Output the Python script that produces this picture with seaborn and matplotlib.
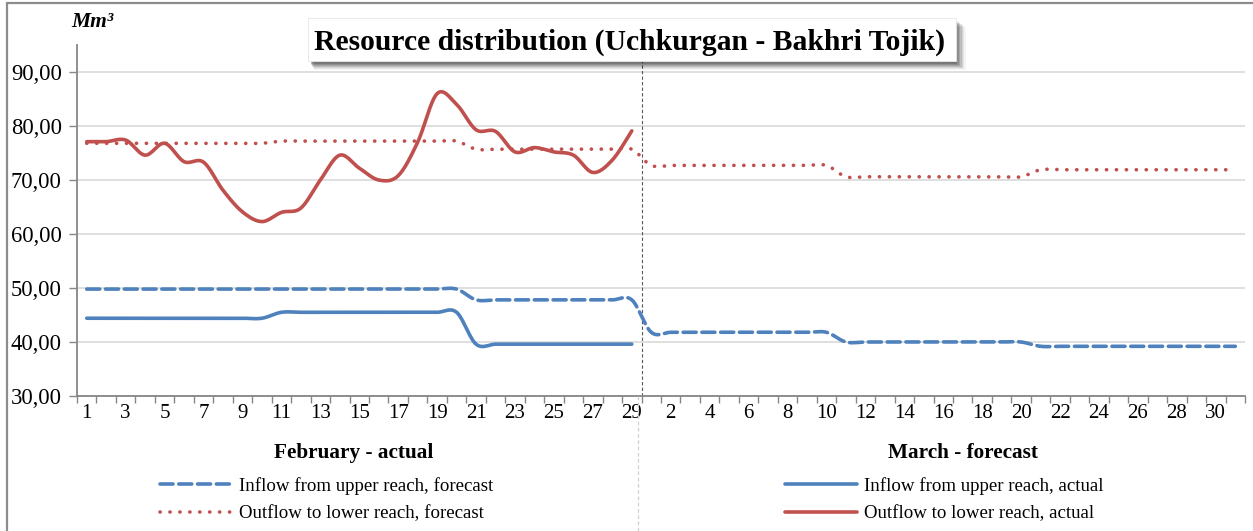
import numpy as np
import matplotlib
matplotlib.use("Agg")
import matplotlib.pyplot as plt
from matplotlib.lines import Line2D
from matplotlib.patches import Rectangle
import seaborn as sns

# data (Mm3 per day)
feb_days = list(range(1, 30))
mar_days = list(range(1, 32))

inflow_forecast = [
    49.8, 49.8, 49.8, 49.8, 49.8, 49.8, 49.8, 49.8, 49.8, 49.8,
    49.8, 49.8, 49.8, 49.8, 49.8, 49.8, 49.8, 49.8, 49.8, 49.8,
    47.8, 47.8, 47.8, 47.8, 47.8, 47.8, 47.8, 47.8, 47.8,
    41.8, 41.8, 41.8, 41.8, 41.8, 41.8, 41.8, 41.8, 41.8, 41.8,
    40.0, 40.0, 40.0, 40.0, 40.0, 40.0, 40.0, 40.0, 40.0, 40.0,
    39.2, 39.2, 39.2, 39.2, 39.2, 39.2, 39.2, 39.2, 39.2, 39.2, 39.2,
]
outflow_forecast = [
    76.8, 76.8, 76.8, 76.8, 76.8, 76.8, 76.8, 76.8, 76.8, 76.8,
    77.2, 77.2, 77.2, 77.2, 77.2, 77.2, 77.2, 77.2, 77.2, 77.2,
    75.7, 75.7, 75.7, 75.7, 75.7, 75.7, 75.7, 75.7, 75.7,
    72.7, 72.7, 72.7, 72.7, 72.7, 72.7, 72.7, 72.7, 72.7, 72.7,
    70.6, 70.6, 70.6, 70.6, 70.6, 70.6, 70.6, 70.6, 70.6, 70.6,
    71.9, 71.9, 71.9, 71.9, 71.9, 71.9, 71.9, 71.9, 71.9, 71.9, 71.9,
]
inflow_actual = [
    44.4, 44.4, 44.4, 44.4, 44.4, 44.4, 44.4, 44.4, 44.4, 44.4,
    45.5, 45.5, 45.5, 45.5, 45.5, 45.5, 45.5, 45.5, 45.5, 45.5,
    39.6, 39.6, 39.6, 39.6, 39.6, 39.6, 39.6, 39.6, 39.6,
]
outflow_actual = [
    77.1, 77.1, 77.4, 74.6, 76.8, 73.4, 73.3, 68.1, 64.1, 62.3,
    64.0, 64.8, 70.0, 74.6, 72.2, 70.0, 70.8, 77.0, 86.0, 84.0,
    79.3, 79.0, 75.2, 76.0, 75.2, 74.6, 71.4, 73.7, 79.1,
]

tick_labels = [str(d) for d in feb_days] + [str(d) for d in mar_days]

BLUE = "#4F81BD"
RED = "#C0504D"
W, H = 1253, 531


def smooth(y, n=16):
    # excel-like smoothed line (bezier, control points at 1/6 of neighbour slope)
    y = np.asarray(y, float)
    x = np.arange(len(y), dtype=float)
    xs, ys = [], []
    for i in range(len(y) - 1):
        i0, i3 = max(i - 1, 0), min(i + 2, len(y) - 1)
        p0 = np.array([x[i], y[i]])
        p3 = np.array([x[i + 1], y[i + 1]])
        p1 = p0 + (p3 - np.array([x[i0], y[i0]])) / 6
        p2 = p3 - (np.array([x[i3], y[i3]]) - p0) / 6
        t = np.linspace(0, 1, n, endpoint=(i == len(y) - 2))[:, None]
        pts = (1 - t) ** 3 * p0 + 3 * (1 - t) ** 2 * t * p1 + 3 * (1 - t) * t ** 2 * p2 + t ** 3 * p3
        xs.extend(pts[:, 0])
        ys.extend(pts[:, 1])
    return np.array(xs), np.array(ys)


sns.set_theme(style="white")
plt.rcParams["font.family"] = ["Liberation Serif", "DejaVu Serif"]
plt.rcParams.update({"text.color": "black", "xtick.color": "black",
                     "ytick.color": "black", "axes.labelcolor": "black"})

fig = plt.figure(figsize=(W / 100, H / 100), dpi=100)
ax = fig.add_axes([77 / W, 1 - 396 / H, (1245 - 77) / W, (396 - 45) / H])

dash_style = (0, (3.6, 1.6))
dot_style = (0, (0.05, 2.7))
lw = 2.6

series = [
    (inflow_forecast, BLUE, dash_style, "Inflow from upper reach, forecast"),
    (outflow_forecast, RED, dot_style, "Outflow to lower reach, forecast"),
    (inflow_actual, BLUE, "-", "Inflow from upper reach, actual"),
    (outflow_actual, RED, "-", "Outflow to lower reach, actual"),
]
for vals, col, ls, name in series:
    sx, sy = smooth(vals)
    sns.lineplot(x=sx, y=sy, ax=ax, color=col, linewidth=lw, linestyle=ls,
                 sort=False, estimator=None, dash_capstyle="round",
                 solid_capstyle="round", zorder=3)

ax.set_xlim(-0.5, 59.5)
ax.set_ylim(30, 95)
ax.set_yticks(np.arange(30, 91, 10))
ax.set_yticklabels([f"{v:.2f}".replace(".", ",") for v in np.arange(30, 91, 10)])
ax.set_xticks(np.arange(0, 60, 2))
ax.set_xticklabels(tick_labels[::2])
ax.set_xticks(np.arange(-0.5, 60, 1), minor=True)
ax.tick_params(axis="x", which="major", length=0, pad=6, labelsize=15)
ax.tick_params(axis="x", which="minor", length=5, width=1, color="#868686", direction="out", bottom=True)
ax.tick_params(axis="y", length=6, width=1, color="#868686", direction="out", left=True,
               labelsize=16.3, pad=5)
ax.grid(axis="y", color="#D9D9D9", linewidth=1.2)
ax.grid(axis="x", visible=False)
for s in ["top", "right"]:
    ax.spines[s].set_visible(False)
for s in ["left", "bottom"]:
    ax.spines[s].set_color("#868686")
    ax.spines[s].set_linewidth(1.3)
ax.set_xlabel("")
ax.set_ylabel("")

# month separator
ax.axvline(28.5, color="#595959", linewidth=0.8, linestyle=(0, (3, 2)), zorder=2)
fig.add_artist(Line2D([638 / W, 638 / W], [0, 1 - 396 / H], color="#D0D0D0",
                      linewidth=0.9, linestyle=(0, (3, 2))))

# outer frame
fig.add_artist(Rectangle((7 / W, -0.1), 1.2, 1.1 - 3 / H, fill=False,
                         edgecolor="#8C8C8C", linewidth=1.6))

# title box with shadow
bx0, bx1, by0, by1 = 308, 956, 18, 61
for k, a in zip(range(7, 0, -1), [0.04, 0.06, 0.08, 0.1, 0.12, 0.14, 0.16]):
    fig.add_artist(Rectangle(((bx0 + 2 + k * 0.6) / W, 1 - (by1 + 2 + k) / H),
                             (bx1 - bx0 - 2 + k * 0.8) / W, (by1 - by0) / H,
                             facecolor="black", edgecolor="none", alpha=a, zorder=5))
fig.add_artist(Rectangle((bx0 / W, 1 - by1 / H), (bx1 - bx0) / W, (by1 - by0) / H,
                         facecolor="white", edgecolor="#E6E6E6", linewidth=0.6, zorder=6))
fig.text(630 / W, 1 - 50 / H, "Resource distribution (Uchkurgan - Bakhri Tojik)",
         ha="center", va="baseline", fontsize=21.3, fontweight="bold", zorder=7)

fig.text(71 / W, 1 - 27 / H, "Mm³", ha="left", va="baseline", fontsize=15.5,
         fontweight="bold", fontstyle="italic")

fig.text(354 / W, 1 - 453 / H, "February - actual", ha="center", va="center",
         fontsize=15.3, fontweight="bold")
fig.text(963 / W, 1 - 453 / H, "March - forecast", ha="center", va="center",
         fontsize=15.3, fontweight="bold")

# legends
def handle(col, ls):
    return Line2D([], [], color=col, linewidth=lw, linestyle=ls,
                  dash_capstyle="round", solid_capstyle="round")

leg_kw = dict(frameon=False, fontsize=13.6, handlelength=3.8, handletextpad=0.4,
              labelspacing=0.55, borderpad=0, borderaxespad=0, loc="upper left")
left = fig.legend([handle(BLUE, dash_style), handle(RED, dot_style)],
                  [series[0][3], series[1][3]], bbox_to_anchor=(160 / W, 1 - 477 / H), **leg_kw)
right = fig.legend([handle(BLUE, "-"), handle(RED, "-")],
                   [series[2][3], series[3][3]], bbox_to_anchor=(785 / W, 1 - 477 / H), **leg_kw)

fig.savefig("out.png", dpi=100)
